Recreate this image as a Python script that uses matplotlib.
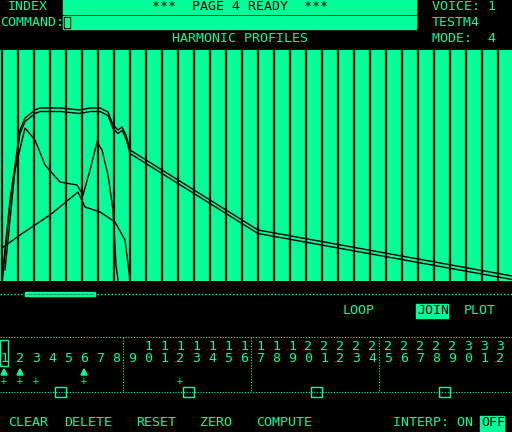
import numpy as np
import matplotlib.pyplot as plt
import matplotlib.transforms as mtransforms
from matplotlib.patches import Rectangle, Polygon

GREEN = "#00ff99"
BLACK = "#000000"

# harmonic profile curves (time position, level)
upper_t = [2, 10, 20, 25, 35, 40, 60, 80, 90, 100, 108, 113, 118, 122, 126, 130, 258, 512]
upper_v = [1, 81, 151, 163, 171, 173, 173, 171, 173, 173, 169, 156, 151, 154, 146, 131, 51, 5]
peak_t = [5, 15, 25, 35, 45, 60, 77, 83, 90, 97, 102, 108, 113, 116, 118]
peak_v = [11, 111, 153, 141, 116, 99, 96, 86, 111, 139, 131, 106, 71, 16, 1]
rise_t = [2, 20, 50, 78, 85, 100, 115, 125, 130]
rise_v = [33, 46, 66, 89, 74, 69, 59, 41, 1]

harmonics = list(range(1, 33))
arrows = [1, 2, 6]
pluses = [1, 2, 3, 6, 12]

fig = plt.figure(figsize=(5.12, 4.32), dpi=100, facecolor=BLACK)
ui = fig.add_axes([0, 0, 1, 1])
ui.set_xlim(0, 512)
ui.set_ylim(432, 0)
ui.axis("off")
ui.set_facecolor(BLACK)

mono = dict(family="DejaVu Sans Mono", fontsize=9.5, color=GREEN, va="center")

# header
ui.add_patch(Rectangle((63, 0), 353, 14, color=GREEN))
ui.add_patch(Rectangle((63, 16), 353, 13, color=GREEN))
ui.add_patch(Rectangle((64, 17), 6, 11, fc=BLACK, ec=BLACK))
ui.add_patch(Rectangle((65, 18), 4, 9, fc=GREEN, ec=GREEN))
ui.text(8, 7, "INDEX", **mono)
ui.text(240, 7, "***  PAGE 4 READY  ***", ha="center", **{**mono, "color": BLACK})
ui.text(0, 22, "COMMAND:", **mono)
ui.text(432, 7, "VOICE: 1", **mono)
ui.text(432, 22, "TESTM4", **mono)
ui.text(240, 39, "HARMONIC PROFILES", ha="center", **mono)
ui.text(432, 39, "MODE:  4", **mono)

# graph area
gr = fig.add_axes([0, (432 - 281) / 432, 1, 231 / 432])
gr.set_xlim(0, 512)
gr.set_ylim(0, 231)
gr.axis("off")
gr.add_patch(Rectangle((0, 0), 512, 231, color=GREEN, zorder=0))
for k in range(32):
    gr.axvline(16 * k + 1.5, color=BLACK, lw=1.6, zorder=1)
off = mtransforms.offset_copy(gr.transData, fig=fig, x=0, y=-3.5, units="dots")
gr.plot(upper_t, upper_v, color=BLACK, lw=1, zorder=2)
gr.plot(upper_t, upper_v, color=BLACK, lw=1, zorder=2, transform=off)
gr.plot(peak_t, peak_v, color=BLACK, lw=1, zorder=2)
gr.plot(rise_t, rise_v, color=BLACK, lw=1, zorder=2)

# scroll bar
ui.plot([0, 512], [294, 294], color=GREEN, lw=1, ls=(0, (1, 1.5)))
ui.add_patch(Rectangle((25, 292), 70, 4, color=GREEN))
ui.plot([27, 93], [294, 294], color=BLACK, lw=0.6, ls=(0, (0.6, 1)))

# mode buttons
ui.text(343, 311, "LOOP", **mono)
ui.add_patch(Rectangle((416, 304), 32, 14, color=GREEN))
ui.text(417, 311, "JOIN", **{**mono, "color": BLACK})
ui.text(464, 311, "PLOT", **mono)

# harmonic selector
dot = dict(color=GREEN, lw=0.8, ls=(0, (1, 1.5)))
ui.plot([0, 512], [337, 337], **dot)
ui.plot([0, 512], [392, 392], **dot)
for xv in [123, 251, 379]:
    ui.plot([xv, xv], [337, 392], **dot)
for xs in [55, 183, 311, 439]:
    ui.add_patch(Rectangle((xs, 387), 11, 10, fc=BLACK, ec=GREEN, lw=1))
for h in harmonics:
    cx = 4 + 16 * (h - 1)
    s = str(h)
    if len(s) == 2:
        ui.text(cx, 347, s[0], ha="center", **mono)
    ui.text(cx, 359, s[-1], ha="center", **mono)
ui.add_patch(Rectangle((0, 340), 8, 26, fc="none", ec=GREEN, lw=1))
for h in arrows:
    cx = 4 + 16 * (h - 1)
    ui.add_patch(Polygon([[cx - 3, 375], [cx + 3, 375], [cx, 369]], color=GREEN))
for h in pluses:
    cx = 4 + 16 * (h - 1)
    ui.text(cx, 381, "+", ha="center", **{**mono, "fontsize": 7})

# bottom menu
for x0, lab in [(8, "CLEAR"), (64, "DELETE"), (136, "RESET"), (200, "ZERO"), (256, "COMPUTE")]:
    ui.text(x0, 423, lab, **mono)
ui.text(393, 423, "INTERP: ON", **mono)
ui.add_patch(Rectangle((480, 416), 24, 16, color=GREEN))
ui.text(481, 423, "OFF", **{**mono, "color": BLACK})

fig.savefig("out.png", dpi=100, facecolor=BLACK)
